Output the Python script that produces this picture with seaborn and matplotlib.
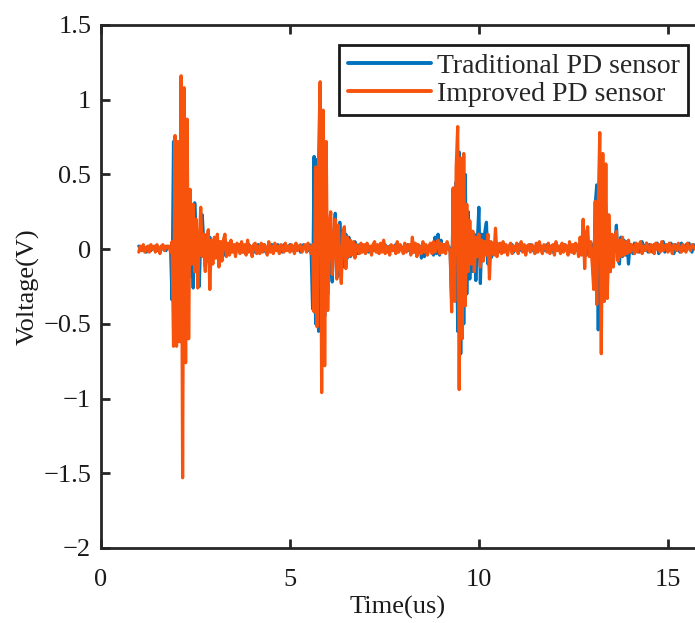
import matplotlib

matplotlib.use("Agg", force=True)
import numpy as np  # noqa: E402
import pandas as pd  # noqa: E402
import seaborn as sns  # noqa: E402
from matplotlib import pyplot as plt  # noqa: E402

SERIES_ORDER = ["Traditional PD sensor", "Improved PD sensor"]
PALETTE = {
    "Traditional PD sensor": "#0072BD",
    "Improved PD sensor": "#F7530C",
}

# sampled every 0.04 us starting at 1.00 us
T_START = 1.0
T_STEP = 0.04

TRADITIONAL = [
    0.02, 0.01, -0.01, 0.02, 0.00, -0.02, 0.01, 0.02, -0.01, 0.01,
    0.00, 0.02, -0.01, 0.01, -0.02, 0.02, 0.00, 0.01, -0.01, 0.02,
    0.01, 0.02, -0.34, 0.72, -0.62, 0.66, -0.60, 0.62, -0.58, 0.58,
    -0.45, 0.30, -0.20, 0.15, -0.18, 0.12, -0.26, 0.31, 0.10, -0.20,
    -0.25, 0.08, 0.23, 0.04, -0.12, 0.10, -0.08, 0.08, -0.10, 0.05,
    -0.06, 0.07, -0.03, 0.05, -0.05, 0.03, 0.06, -0.04, 0.02, -0.03,
    0.04, -0.02, 0.03, 0.01, -0.03, 0.02, -0.01, 0.03, 0.00, -0.02,
    0.02, 0.01, -0.02, 0.03, 0.00, -0.01, 0.02, -0.02, 0.01, 0.03,
    -0.01, 0.02, 0.00, 0.03, -0.02, 0.01, 0.02, -0.01, 0.03, 0.01,
    0.02, -0.01, 0.03, 0.01, 0.02, -0.02, 0.03, 0.00, 0.02, 0.01,
    0.03, 0.01, -0.01, 0.02, 0.03, 0.00, 0.02, -0.02, 0.01, 0.03,
    0.01, 0.02, -0.01, 0.03, 0.00, -0.40, 0.62, -0.50, 0.60, -0.55,
    0.70, -0.60, 0.55, -0.45, 0.35, -0.30, 0.20, -0.10, -0.22, 0.10,
    0.24, -0.05, -0.18, 0.18, -0.10, 0.12, -0.12, 0.10, -0.06, 0.08,
    -0.05, 0.04, -0.03, 0.05, 0.02, -0.03, 0.03, -0.02, 0.02, 0.01,
    0.00, 0.03, -0.02, 0.01, 0.02, -0.01, 0.03, 0.00, -0.02, 0.02,
    0.01, -0.01, 0.02, 0.03, -0.02, 0.00, 0.02, 0.01, -0.01, 0.02,
    0.03, -0.02, 0.01, 0.02, 0.00, -0.01, 0.02, 0.01, 0.03, -0.01,
    0.02, 0.00, -0.02, 0.01, 0.03, -0.01, 0.02, -0.06, 0.01, -0.05,
    0.02, -0.03, 0.01, 0.00, 0.02, -0.04, 0.08, -0.03, 0.10, -0.04,
    0.06, -0.02, 0.03, 0.01, 0.00, 0.02, -0.01, -0.35, 0.40, -0.30,
    0.45, -0.55, 0.65, -0.70, 0.55, -0.50, 0.50, -0.30, 0.25, -0.20,
    0.12, -0.15, 0.10, -0.21, 0.05, 0.28, -0.23, 0.10, -0.05, 0.12,
    0.18, -0.10, 0.05, -0.06, 0.04, 0.02, -0.03, 0.04, -0.02, 0.03,
    0.01, -0.02, 0.03, 0.02, -0.01, 0.02, 0.00, 0.03, -0.02, 0.01,
    0.02, 0.03, -0.01, 0.01, 0.02, 0.00, -0.02, 0.02, 0.01, 0.03,
    -0.01, 0.02, 0.01, -0.02, 0.03, 0.00, 0.02, 0.01, -0.01, 0.02,
    0.03, 0.00, 0.01, 0.02, -0.02, 0.03, 0.01, 0.00, 0.02, -0.01,
    0.02, 0.01, 0.03, -0.01, 0.02, 0.00, 0.01, -0.02, 0.03, 0.02,
    -0.01, 0.02, 0.04, -0.03, 0.05, 0.01, -0.04, 0.04, 0.02, -0.02,
    0.03, -0.20, 0.30, 0.43, -0.54, 0.50, -0.40, 0.45, -0.30, 0.25,
    -0.25, 0.15, -0.15, 0.08, -0.08, 0.05, 0.16, -0.05, -0.10, 0.08,
    -0.05, 0.06, -0.04, 0.05, -0.10, 0.03, 0.02, -0.03, 0.04, 0.01,
    0.02, -0.02, 0.03, 0.05, -0.01, 0.02, 0.04, -0.02, 0.03, 0.01,
    -0.02, 0.03, 0.01, 0.04, -0.03, 0.02, 0.01, 0.05, -0.02, 0.03,
    0.01, -0.01, 0.04, 0.02, -0.03, 0.03, 0.01, 0.02, -0.02, 0.04,
    0.02, -0.01, 0.03, 0.00, 0.04, 0.01, -0.02, 0.03, 0.02,
]

IMPROVED = [
    -0.02, 0.02, -0.01, 0.03, -0.02, 0.01, 0.02, -0.02, 0.03, 0.00,
    0.02, -0.02, 0.03, 0.01, -0.03, 0.02, 0.03, -0.01, 0.02, 0.01,
    0.02, -0.02, 0.05, -0.65, 0.76, -0.65, 0.72, -0.62, 1.16, -1.53,
    1.08, -0.76, 0.87, -0.60, 0.40, -0.10, 0.30, -0.15, 0.20, -0.26,
    0.05, 0.28, -0.05, 0.10, -0.15, 0.05, 0.13, -0.27, 0.06, -0.10,
    0.08, -0.06, 0.10, -0.12, 0.05, -0.08, 0.06, 0.10, -0.05, 0.04,
    -0.04, 0.06, -0.02, 0.03, -0.05, 0.04, 0.01, -0.03, 0.05, -0.02,
    0.03, -0.04, 0.06, -0.02, 0.02, -0.05, 0.03, 0.04, -0.03, 0.02,
    -0.03, 0.04, -0.02, 0.03, 0.01, -0.04, 0.05, -0.02, 0.02, -0.03,
    0.04, -0.01, 0.02, -0.03, 0.03, 0.01, -0.02, 0.04, -0.01, 0.02,
    -0.02, 0.03, 0.01, -0.03, 0.04, -0.01, 0.02, 0.03, -0.02, 0.01,
    0.03, -0.02, 0.04, 0.01, -0.03, 0.03, -0.42, 0.55, -0.52, 0.65,
    1.12, -0.96, 0.93, -0.78, 0.72, -0.41, 0.15, 0.25, -0.17, 0.05,
    0.20, -0.20, 0.16, -0.08, -0.23, 0.10, 0.15, -0.13, 0.08, -0.05,
    0.06, -0.04, 0.05, -0.06, 0.03, 0.02, -0.03, 0.04, -0.02, 0.03,
    -0.03, 0.04, -0.01, 0.02, -0.04, 0.03, 0.05, -0.02, 0.03, -0.03,
    0.04, -0.02, 0.06, -0.03, 0.02, 0.01, -0.04, 0.03, -0.01, 0.02,
    -0.03, 0.05, -0.02, 0.03, 0.01, -0.03, 0.04, -0.02, 0.02, 0.03,
    -0.04, 0.08, -0.02, 0.04, -0.05, 0.03, 0.01, -0.03, 0.05, -0.02,
    0.03, -0.04, 0.02, 0.04, -0.03, 0.05, -0.02, 0.03, 0.06, -0.03,
    0.04, -0.02, 0.03, -0.03, 0.05, 0.01, -0.02, -0.42, 0.41, -0.35,
    0.55, 0.82, -0.94, 0.61, -0.60, 0.64, -0.38, 0.30, -0.15, 0.19,
    -0.10, 0.12, -0.15, 0.08, -0.05, 0.10, -0.12, 0.06, -0.08, 0.05,
    -0.04, 0.10, -0.20, 0.05, 0.03, -0.04, 0.14, -0.05, 0.03, 0.04,
    -0.03, 0.05, -0.02, 0.03, -0.04, 0.02, 0.04, -0.03, 0.02, -0.01,
    0.04, -0.03, 0.02, 0.05, -0.02, 0.03, -0.04, 0.02, 0.03, -0.02,
    0.03, 0.01, -0.03, 0.04, -0.02, 0.05, 0.00, -0.03, 0.03, 0.02,
    -0.02, 0.04, -0.03, 0.02, 0.03, -0.04, 0.05, -0.01, 0.02, -0.03,
    0.04, -0.02, 0.03, 0.01, -0.04, 0.05, -0.02, 0.03, -0.03, 0.04,
    0.02, -0.05, 0.08, -0.04, 0.20, -0.13, 0.10, 0.15, -0.05, 0.05,
    -0.10, -0.27, 0.32, -0.37, 0.30, 0.78, -0.70, 0.64, -0.35, 0.57,
    -0.33, 0.23, -0.15, 0.10, -0.12, 0.08, 0.12, -0.08, 0.06, -0.05,
    0.08, -0.04, 0.05, -0.03, 0.06, -0.02, 0.03, 0.01, -0.03, 0.04,
    -0.02, 0.03, 0.05, -0.03, 0.02, -0.01, 0.04, 0.01, -0.02, 0.03,
    0.02, -0.03, 0.04, 0.00, 0.03, -0.02, 0.05, -0.01, 0.02, 0.03,
    -0.02, 0.04, 0.01, -0.03, 0.03, 0.02, -0.01, 0.04, 0.00, -0.02,
    0.03, 0.01, -0.02, 0.04, 0.01, -0.01, 0.03, 0.02, 0.00,
]

X_TICKS = [0, 5, 10, 15]
Y_TICKS = [-2, -1.5, -1, -0.5, 0, 0.5, 1, 1.5]
Y_TICK_LABELS = ["\u22122", "\u22121.5", "\u22121", "\u22120.5", "0", "0.5", "1", "1.5"]

FONT_SIZE = 19


def build_frame() -> pd.DataFrame:
    parts = []
    for name, values in zip(SERIES_ORDER, [TRADITIONAL, IMPROVED]):
        time = np.round(T_START + T_STEP * np.arange(len(values)), 2)
        parts.append(pd.DataFrame({"time": time, "voltage": values, "series": name}))
    return pd.concat(parts, ignore_index=True)


sns.set_style("ticks")
plt.rcParams["font.family"] = ["Liberation Serif", "DejaVu Serif"]

frame = build_frame()

fig = plt.figure(figsize=(6.95, 6.23), dpi=100)
ax = fig.add_axes([0.1453, 0.1204, 0.8547, 0.8395])
sns.lineplot(
    data=frame,
    x="time",
    y="voltage",
    hue="series",
    hue_order=SERIES_ORDER,
    palette=PALETTE,
    estimator=None,
    sort=False,
    linewidth=2.3,
    ax=ax,
)

ax.set_xlim(0, 15.72)
ax.set_ylim(-2, 1.5)
ax.set_xticks(X_TICKS)
ax.set_yticks(Y_TICKS)
ax.set_yticklabels(Y_TICK_LABELS)
ax.set_xlabel("Time(us)", fontsize=FONT_SIZE, labelpad=4, color="#1a1a1a")
ax.set_ylabel("Voltage(V)", fontsize=FONT_SIZE, labelpad=3, color="#1a1a1a")
ax.tick_params(
    direction="in", length=6.5, width=2, labelsize=FONT_SIZE, colors="#262626",
    top=True, right=False,
)
ax.tick_params(axis="x", pad=15)
ax.tick_params(axis="y", pad=7)
for label in ax.get_xticklabels() + ax.get_yticklabels():
    label.set_color("#1a1a1a")
for side in ("left", "bottom", "top"):
    ax.spines[side].set_linewidth(2)
    ax.spines[side].set_color("#262626")
ax.spines["right"].set_visible(False)

legend = ax.legend(
    loc="upper right",
    bbox_to_anchor=(0.988, 0.962),
    fontsize=20,
    handlelength=3.0,
    handletextpad=0.2,
    borderpad=0.3,
    labelspacing=0.1,
    borderaxespad=0,
    fancybox=False,
    framealpha=1,
)
legend.get_frame().set_edgecolor("#1a1a1a")
legend.get_frame().set_linewidth(2)
for line in legend.get_lines():
    line.set_linewidth(2.8)

fig.savefig("out.png", dpi=100)
plt.close(fig)
